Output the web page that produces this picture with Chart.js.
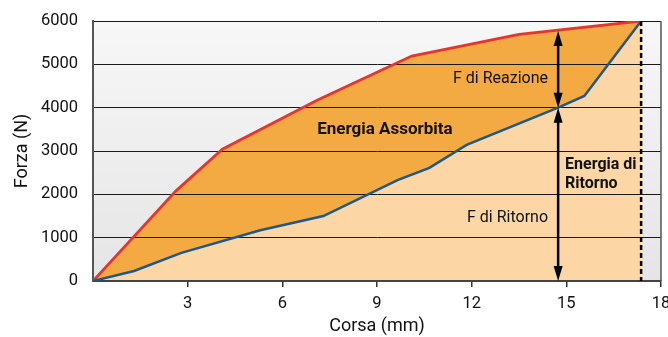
<!DOCTYPE html>
<html>
<head>
<meta charset="utf-8">
<script src="https://cdn.jsdelivr.net/npm/chart.js@4"></script>
<style>
html,body{margin:0;padding:0;background:#fff;}
canvas{display:block;}
</style>
</head>
<body>
<canvas id="c" width="668" height="337"></canvas>
<script>
// ---- data ----
const corsaRitorno = [0, 1.3, 2.8, 5.3, 7.3, 9.65, 10.66, 11.84, 14.74, 15.57, 17.37];
const forzaRitorno = [0, 230, 650, 1170, 1500, 2330, 2610, 3140, 4000, 4270, 6000];
const corsaReazione = [0, 2.63, 4.1, 7.1, 10.1, 13.5, 17.37];
const forzaReazione = [0, 2080, 3040, 4170, 5190, 5690, 6000];
const xTicks = [3, 6, 9, 12, 15, 18];
const yTicks = [0, 1000, 2000, 3000, 4000, 5000, 6000];
const corsaFine = 17.37;          // end of stroke (dashed line)
const corsaFreccia = 14.74;       // x of the arrows
const forzaFrecciaTop = 5770;     // F di Reazione at arrow x
const forzaFrecciaMid = 4000;     // F di Ritorno at arrow x
const forzaFrecciaBot = 0;

const FONT = 'Roboto, "Liberation Sans", sans-serif';
Chart.defaults.font.family = FONT;
Chart.defaults.color = '#111';

const toXY = (xs, ys) => xs.map((x, i) => ({x, y: ys[i]}));

const decor = {
  id: 'decor',
  beforeDraw(chart) {
    const {ctx, chartArea: a} = chart;
    ctx.save();
    ctx.globalCompositeOperation = 'destination-over';
    const g = ctx.createLinearGradient(0, a.top, 0, a.bottom);
    g.addColorStop(0, '#f7f7f7');
    g.addColorStop(1, '#e5e5e5');
    ctx.fillStyle = g;
    ctx.fillRect(a.left, a.top, a.right - a.left, a.bottom - a.top);
    ctx.restore();
  },
  afterDatasetsDraw(chart) {
    const {ctx, chartArea: a, scales: {x, y}} = chart;
    ctx.save();
    // right border
    ctx.strokeStyle = '#555';
    ctx.lineWidth = 1.5;
    ctx.beginPath();
    ctx.moveTo(a.right, a.top);
    ctx.lineTo(a.right, a.bottom);
    ctx.stroke();
    // dashed end-of-stroke line
    const xf = x.getPixelForValue(corsaFine);
    ctx.strokeStyle = '#000';
    ctx.lineWidth = 2.5;
    ctx.setLineDash([5, 3]);
    ctx.beginPath();
    ctx.moveTo(xf, y.getPixelForValue(6000));
    ctx.lineTo(xf, y.getPixelForValue(0));
    ctx.stroke();
    ctx.setLineDash([]);
    // arrows
    const xa = x.getPixelForValue(corsaFreccia);
    const dbl = (yTop, yBot) => {
      const hl = 15, hw = 4.5;
      ctx.lineWidth = 2.5;
      ctx.strokeStyle = '#000';
      ctx.beginPath();
      ctx.moveTo(xa, yTop + hl - 2);
      ctx.lineTo(xa, yBot - hl + 2);
      ctx.stroke();
      ctx.fillStyle = '#000';
      ctx.beginPath();
      ctx.moveTo(xa, yTop);
      ctx.lineTo(xa - hw, yTop + hl);
      ctx.lineTo(xa + hw, yTop + hl);
      ctx.closePath();
      ctx.fill();
      ctx.beginPath();
      ctx.moveTo(xa, yBot);
      ctx.lineTo(xa - hw, yBot - hl);
      ctx.lineTo(xa + hw, yBot - hl);
      ctx.closePath();
      ctx.fill();
    };
    dbl(y.getPixelForValue(forzaFrecciaTop), y.getPixelForValue(forzaFrecciaMid));
    dbl(y.getPixelForValue(forzaFrecciaMid), y.getPixelForValue(forzaFrecciaBot));
    // texts
    ctx.fillStyle = '#111';
    ctx.textBaseline = 'middle';
    ctx.font = '16px ' + FONT;
    ctx.textAlign = 'right';
    ctx.fillText('F di Reazione', x.getPixelForValue(14.42), y.getPixelForValue(4670));
    ctx.fillText('F di Ritorno', x.getPixelForValue(14.42), y.getPixelForValue(1450));
    ctx.font = 'bold 17px ' + FONT;
    ctx.textAlign = 'center';
    ctx.fillText('Energia Assorbita', x.getPixelForValue(9.25), y.getPixelForValue(3500));
    ctx.font = 'bold 16px ' + FONT;
    ctx.textAlign = 'left';
    ctx.fillText('Energia di', x.getPixelForValue(14.96), y.getPixelForValue(2670));
    ctx.fillText('Ritorno', x.getPixelForValue(14.96), y.getPixelForValue(2230));
    ctx.restore();
  }
};

new Chart(document.getElementById('c'), {
  type: 'line',
  data: {
    datasets: [
      {
        label: 'F di Ritorno',
        data: toXY(corsaRitorno, forzaRitorno),
        borderColor: '#1d5a8a',
        borderWidth: 2.5,
        backgroundColor: '#fcd6a5',
        fill: 'origin',
        pointRadius: 0,
        tension: 0
      },
      {
        label: 'F di Reazione',
        data: toXY(corsaReazione, forzaReazione),
        borderColor: '#e8352b',
        borderWidth: 2.8,
        backgroundColor: '#f4aa42',
        fill: 'origin',
        pointRadius: 0,
        tension: 0
      }
    ]
  },
  options: {
    responsive: false,
    animation: false,
    devicePixelRatio: 1,
    layout: {padding: {left: 0, right: 7, top: 21, bottom: 0}},
    plugins: {
      legend: {display: false},
      tooltip: {enabled: false},
      filler: {drawTime: 'beforeDraw'}
    },
    scales: {
      x: {
        type: 'linear',
        min: 0, max: 18,
        afterBuildTicks: s => { s.ticks = xTicks.map(v => ({value: v})); },
        afterFit: s => { s.height = 56; s.paddingLeft = 0; s.paddingRight = 0; },
        grid: {drawOnChartArea: false, drawTicks: true, tickLength: 6, color: '#333', lineWidth: 1.5},
        border: {display: true, color: '#444', width: 2},
        ticks: {font: {size: 16.5}, padding: 7, maxRotation: 0, color: '#111', callback: v => String(v)},
        title: {display: true, text: 'Corsa (mm)', font: {size: 18, lineHeight: 1}, padding: {top: 0, bottom: 2}, color: '#111'}
      },
      y: {
        min: 0, max: 6000,
        afterBuildTicks: s => { s.ticks = yTicks.map(v => ({value: v})); },
        afterFit: s => { s.width = 93; s.paddingTop = 0; s.paddingBottom = 0; },
        grid: {drawTicks: false, color: '#1a1a1a', lineWidth: 1},
        border: {display: true, color: '#555', width: 2},
        ticks: {font: {size: 16.5}, padding: 15, color: '#111', callback: v => String(v)},
        title: {display: true, text: 'Forza (N)', font: {size: 18, lineHeight: 1}, padding: {top: 13, bottom: 0}, color: '#111'}
      }
    }
  },
  plugins: [decor]
});
</script>
</body>
</html>
